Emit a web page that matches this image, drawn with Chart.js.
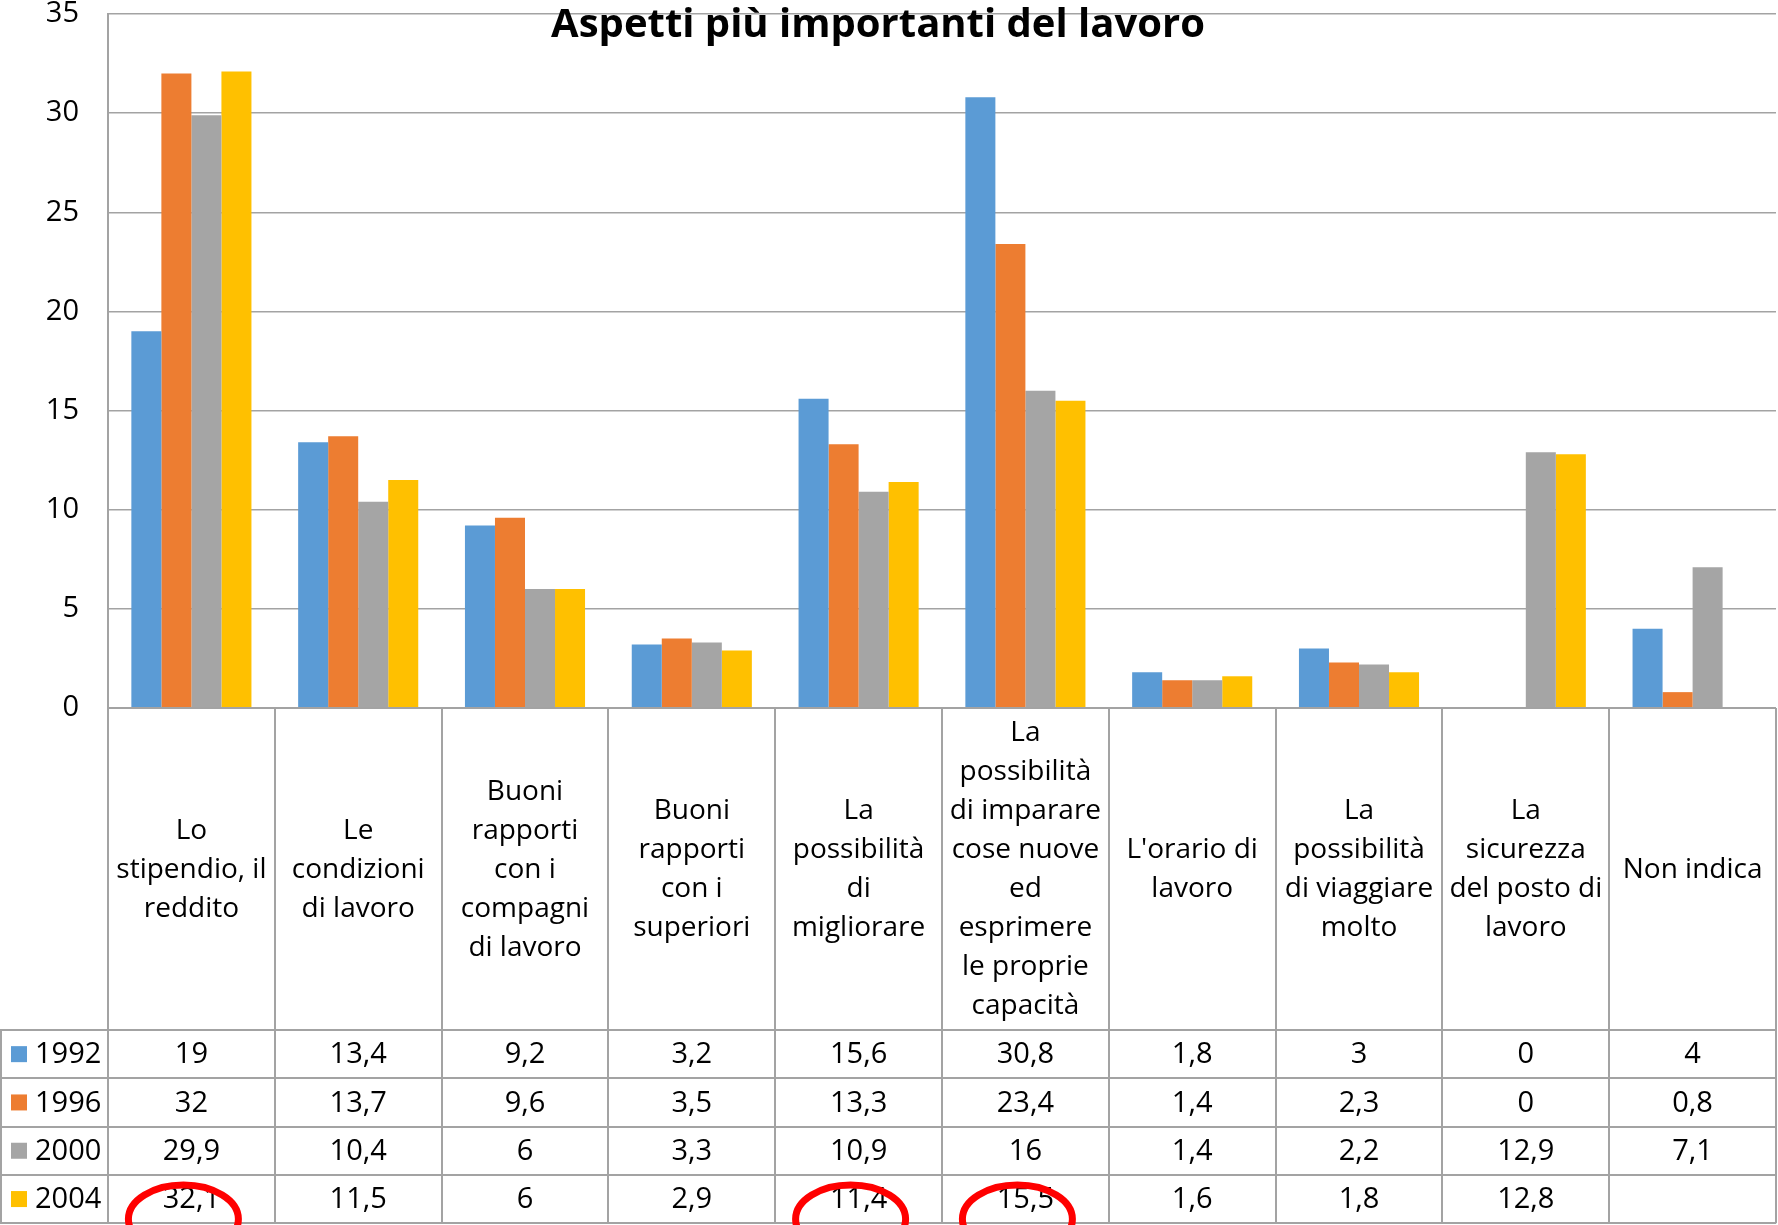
<!DOCTYPE html>
<html>
<head>
<meta charset="utf-8">
<script src="https://cdn.jsdelivr.net/npm/chart.js@4/dist/chart.umd.min.js"></script>
<style>
  body { margin: 0; background: #fff; }
  #wrap { width: 1778px; height: 1225px; position: relative; }
</style>
</head>
<body>
<div id="wrap"><canvas id="aspetti"></canvas></div>
<script>
"use strict";

/* --- DATI --- */

const categories = [
  ['Lo', 'stipendio, il', 'reddito'],
  ['Le', 'condizioni', 'di lavoro'],
  ['Buoni', 'rapporti', 'con i', 'compagni', 'di lavoro'],
  ['Buoni', 'rapporti', 'con i', 'superiori'],
  ['La', 'possibilità', 'di', 'migliorare'],
  ['La', 'possibilità', 'di imparare', 'cose nuove', 'ed', 'esprimere', 'le proprie', 'capacità'],
  ["L'orario di", 'lavoro'],
  ['La', 'possibilità', 'di viaggiare', 'molto'],
  ['La', 'sicurezza', 'del posto di', 'lavoro'],
  ['Non indica'],
];

const series_labels = ['1992', '1996', '2000', '2004'];
const values_1992 = [19, 13.4, 9.2, 3.2, 15.6, 30.8, 1.8, 3, 0, 4];
const values_1996 = [32, 13.7, 9.6, 3.5, 13.3, 23.4, 1.4, 2.3, 0, 0.8];
const values_2000 = [29.9, 10.4, 6, 3.3, 10.9, 16, 1.4, 2.2, 12.9, 7.1];
const values_2004 = [32.1, 11.5, 6, 2.9, 11.4, 15.5, 1.6, 1.8, 12.8, null];
const series_colors = ['#5b9bd5', '#ed7d31', '#a5a5a5', '#ffc000'];

const y_min = 0;
const y_max = 35;
const y_step = 5;

const title_text = 'Aspetti più importanti del lavoro';

// celle cerchiate in rosso: [serie, categoria]
const marked_cells = [[3, 0], [3, 4], [3, 5]];

/* --- TABELLA DATI (plugin) --- */

const all_values = [values_1992, values_1996, values_2000, values_2004];
const line_color = '#a3a3a3';
const label_font = '28px "Open Sans"';
const number_font = '29px "Open Sans"';

function fmt(v) {
  if (v === null || v === undefined) return '';
  return String(v).replace('.', ',');
}

const data_table = {
  id: 'data_table',
  afterDraw(chart) {
    const ctx = chart.ctx;
    const area = chart.chartArea;
    const x = chart.scales.x;
    const n = categories.length;
    const cat_w = (area.right - area.left) / n;
    const label_bottom = 1030;
    const row_h = 48.3;
    const table_bottom = label_bottom + row_h * 4;

    ctx.save();

    // linee
    ctx.strokeStyle = line_color;
    ctx.lineWidth = 2;
    ctx.beginPath();
    for (let i = 0; i <= n; i++) {
      const lx = Math.round(area.left + cat_w * i);
      ctx.moveTo(lx, area.bottom);
      ctx.lineTo(lx, table_bottom);
    }
    ctx.moveTo(1, label_bottom);
    ctx.lineTo(1, table_bottom);
    for (let r = 0; r <= 4; r++) {
      const ly = Math.round(label_bottom + row_h * r);
      ctx.moveTo(0, ly);
      ctx.lineTo(area.right, ly);
    }
    ctx.moveTo(area.left, area.bottom);
    ctx.lineTo(area.right, area.bottom);
    ctx.stroke();

    // etichette categorie
    ctx.fillStyle = '#000';
    ctx.font = label_font;
    ctx.textAlign = 'center';
    ctx.textBaseline = 'middle';
    const line_h = 39;
    const mid = (area.bottom + label_bottom) / 2 + 1;
    categories.forEach((lines, i) => {
      const cx = x.getPixelForValue(i);
      const y0 = mid - (lines.length - 1) * line_h / 2;
      lines.forEach((t, k) => ctx.fillText(t, cx, y0 + k * line_h));
    });

    // righe della tabella
    all_values.forEach((vals, s) => {
      const cy = label_bottom + row_h * s + row_h / 2;
      ctx.fillStyle = series_colors[s];
      ctx.fillRect(11, cy - 8, 16, 16);
      ctx.fillStyle = '#000';
      ctx.font = number_font;
      ctx.textAlign = 'left';
      ctx.fillText(series_labels[s], 35, cy + 1);
      ctx.textAlign = 'center';
      vals.forEach((v, i) => ctx.fillText(fmt(v), x.getPixelForValue(i), cy + 1));
    });

    // cerchi rossi
    ctx.strokeStyle = '#ff0000';
    ctx.lineWidth = 7;
    marked_cells.forEach(([s, i]) => {
      const cx = x.getPixelForValue(i) - 8;
      const cy = label_bottom + row_h * s + row_h / 2 + 20;
      ctx.beginPath();
      ctx.ellipse(cx, cy, 55, 34, 0, 0, Math.PI * 2);
      ctx.stroke();
    });

    // titolo
    ctx.font = 'bold 40px "Open Sans"';
    ctx.textAlign = 'center';
    ctx.fillStyle = '#000';
    ctx.fillText(title_text, 878, 26);

    ctx.restore();
  }
};

/* --- GRAFICO --- */

const aspetti = document.getElementById('aspetti');

let aspetti_chart = new Chart(aspetti, {
  type: 'bar',
  data: {
    labels: categories.map(c => c.join(' ')),
    datasets: series_labels.map((lab, s) => ({
      label: lab,
      data: all_values[s],
      backgroundColor: series_colors[s],
      borderWidth: 0,
      categoryPercentage: 0.72,
      barPercentage: 1.0,
    }))
  },
  options: {
    responsive: true,
    maintainAspectRatio: false,
    animation: false,
    layout: {
      padding: { top: 14, bottom: 517, right: 2, left: 0 }
    },
    plugins: {
      legend: { display: false },
      tooltip: { enabled: false },
      title: { display: false }
    },
    scales: {
      x: {
        display: false
      },
      y: {
        min: y_min,
        max: y_max,
        ticks: {
          stepSize: y_step,
          padding: 29,
          color: '#000',
          font: { family: '"Open Sans"', size: 29 }
        },
        grid: {
          color: line_color,
          lineWidth: 1.5,
          drawTicks: false
        },
        border: { display: true, color: line_color, width: 2 },
        afterFit(scale) {
          scale.width = 108;
          scale.paddingTop = 0;
          scale.paddingBottom = 0;
        }
      }
    }
  },
  plugins: [data_table]
});
</script>
</body>
</html>
